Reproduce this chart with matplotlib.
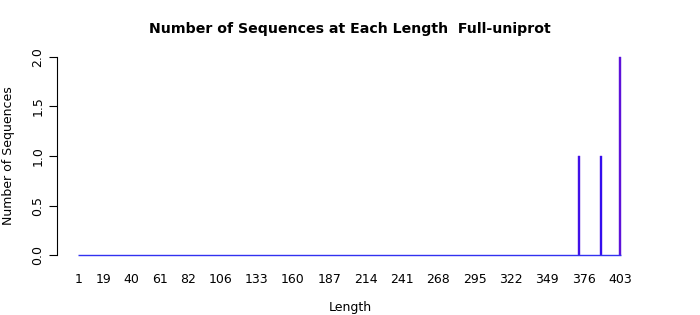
import numpy as np
import matplotlib
matplotlib.use('Agg')
from matplotlib import pyplot as plt

# sequence lengths and how many sequences have that length
lengths = np.arange(1, 404)
hit_lengths = [372, 373, 389, 403]
hit_counts = [1, 1, 1, 2]
tick_labels = [1, 19, 40, 61, 82, 106, 133, 160, 187, 214, 241, 268,
               295, 322, 349, 376, 403]
y_ticks = [0.0, 0.5, 1.0, 1.5, 2.0]

counts = np.zeros(len(lengths))
for l, c in zip(hit_lengths, hit_counts):
    counts[l - 1] = c

nz = counts > 0
colors = ['#6010d8' if c >= 2 else '#2a0cf2' for c in counts[nz]]

fig = plt.figure(figsize=(7, 3.15), dpi=100)
ax = fig.add_axes([57 / 700, 52 / 315, 585 / 700, 214 / 315])

ax.bar(lengths[nz], counts[nz], width=1.0, color=colors,
       edgecolor='#5a18e0', linewidth=0.3)
# zero-height bars show up as a line along the baseline
ax.hlines(0, lengths[0] - 0.5, lengths[-1] + 0.5, color='#3232f0',
          linewidth=1.0)

ax.set_xlim(1 - 22 / 1.3458, 403 + 22 / 1.3458)
ax.set_ylim(-0.08, 2.08)

ax.set_xticks(tick_labels)
ax.set_xticklabels([str(t) for t in tick_labels], fontsize=9)
ax.tick_params(axis='x', length=0, pad=7)

ax.set_yticks(y_ticks)
ax.set_yticklabels(['%.1f' % t for t in y_ticks], fontsize=9,
                   rotation=90, va='center')
ax.tick_params(axis='y', length=6, width=0.8, pad=3)

for s in ['top', 'right', 'bottom']:
    ax.spines[s].set_visible(False)
ax.spines['left'].set_bounds(0, 2)
ax.spines['left'].set_linewidth(0.8)

fig.text(350 / 700, 1 - 308 / 315, 'Length', fontsize=9,
         ha='center', va='center')
ax.set_ylabel('Number of Sequences', fontsize=9, labelpad=12)
fig.suptitle('Number of Sequences at Each Length  Full-uniprot',
             fontsize=10.2, fontweight='bold', x=350 / 700, y=1 - 29 / 315,
             va='center')

plt.savefig('out.png', dpi=100)
